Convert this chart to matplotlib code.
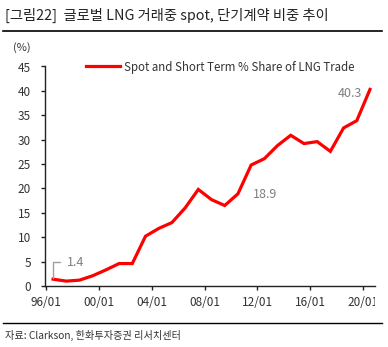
import matplotlib
matplotlib.use('Agg')
import matplotlib.pyplot as plt
from matplotlib.transforms import Bbox
import numpy as np

plt.rcParams['font.family'] = ['Noto Sans CJK KR', 'DejaVu Sans']

# annual share of spot / short-term trade (%), 1996-2020
years = list(range(1996, 2021))
share = [1.4, 1.0, 1.2, 2.1, 3.3, 4.6, 4.6, 10.2, 11.8, 13.0, 16.0, 19.8, 17.7,
         16.5, 18.9, 24.8, 26.1, 28.8, 30.9, 29.2, 29.6, 27.6, 32.4, 33.9, 40.3]
tick_years = [1996, 2000, 2004, 2008, 2012, 2016, 2020]
tick_labels = ['96/01', '00/01', '04/01', '08/01', '12/01', '16/01', '20/01']
y_ticks = list(range(0, 50, 5))
labelled = {1996: '1.4', 2010: '18.9', 2020: '40.3'}

title = '[그림22]  글로벌 LNG 거래중 spot, 단기계약 비중 추이'
source = '자료: Clarkson, 한화투자증권 리서치센터'
series_name = 'Spot and Short Term % Share of LNG Trade'

W, H = 388, 347
fig = plt.figure(figsize=(W / 100, H / 100), dpi=100)
ax = fig.add_axes([45 / W, (H - 286) / H, (375 - 45) / W, (286 - 66.5) / H])

# points sit in the middle of each year on the date axis
x = np.array(years) + 0.53
ax.plot(x, share, color='#ff0000', lw=2.3, label=series_name, solid_joinstyle='miter')

ax.set_xlim(1995.92, 2020.91)
ax.set_ylim(0, 45)
ax.set_xticks(tick_years)
ax.set_xticklabels(tick_labels)
ax.set_yticks(y_ticks)
for s in ['top', 'right']:
    ax.spines[s].set_visible(False)
for s in ['left', 'bottom']:
    ax.spines[s].set_linewidth(1.0)
    ax.spines[s].set_color('#222222')
ax.tick_params(axis='both', direction='out', length=3, width=1.0, color='#222222',
               labelsize=8.5, labelcolor='#333333')
ax.tick_params(axis='y', pad=7)
ax.tick_params(axis='x', pad=4)

# last x label is cut off at the right like in the source
clip = Bbox.from_extents(0, 0, 375, H)
for t in ax.get_xticklabels():
    t.set_clip_box(clip)
    t.set_clip_on(True)

gray = '#7f7f7f'
i0 = years.index(1996)
ax.annotate(labelled[1996], xy=(x[i0], share[i0]), xytext=(14, 17), textcoords='offset pixels',
            ha='left', va='center', fontsize=9, color=gray,
            arrowprops=dict(arrowstyle='-', color='#a0a0a0', lw=1.0, shrinkA=3, shrinkB=1,
                            relpos=(0, 0.5),
                            connectionstyle='angle,angleA=0,angleB=90,rad=0'))
i1 = years.index(2010)
ax.annotate(labelled[2010], xy=(x[i1], share[i1]), xytext=(15, -1), textcoords='offset pixels',
            ha='left', va='center', fontsize=9, color=gray)
i2 = years.index(2020)
ax.annotate(labelled[2020], xy=(x[i2], share[i2]), xytext=(-8, -4), textcoords='offset pixels',
            ha='right', va='center', fontsize=9, color=gray)

fig.legend(loc='center left', bbox_to_anchor=(81 / W, 1 - 67 / H), frameon=False,
           fontsize=8.3, handlelength=3.0, handletextpad=0.35, borderaxespad=0,
           labelcolor='#333333')

fig.text(5 / W, 1 - 15 / H, title, fontsize=10.3, color='#222222', va='center', ha='left')
fig.add_artist(plt.Line2D([3 / W, 382 / W], [1 - 31 / H, 1 - 31 / H], color='black', lw=1.2))
fig.text(13 / W, 1 - 48 / H, '(%)', fontsize=8, color='#333333', va='center', ha='left')
fig.add_artist(plt.Line2D([3 / W, 382 / W], [1 - 323 / H, 1 - 323 / H], color='black', lw=1.0))
fig.text(5 / W, 1 - 335 / H, source, fontsize=7.3, color='#333333', va='center', ha='left')

fig.savefig('out.png', dpi=100)
